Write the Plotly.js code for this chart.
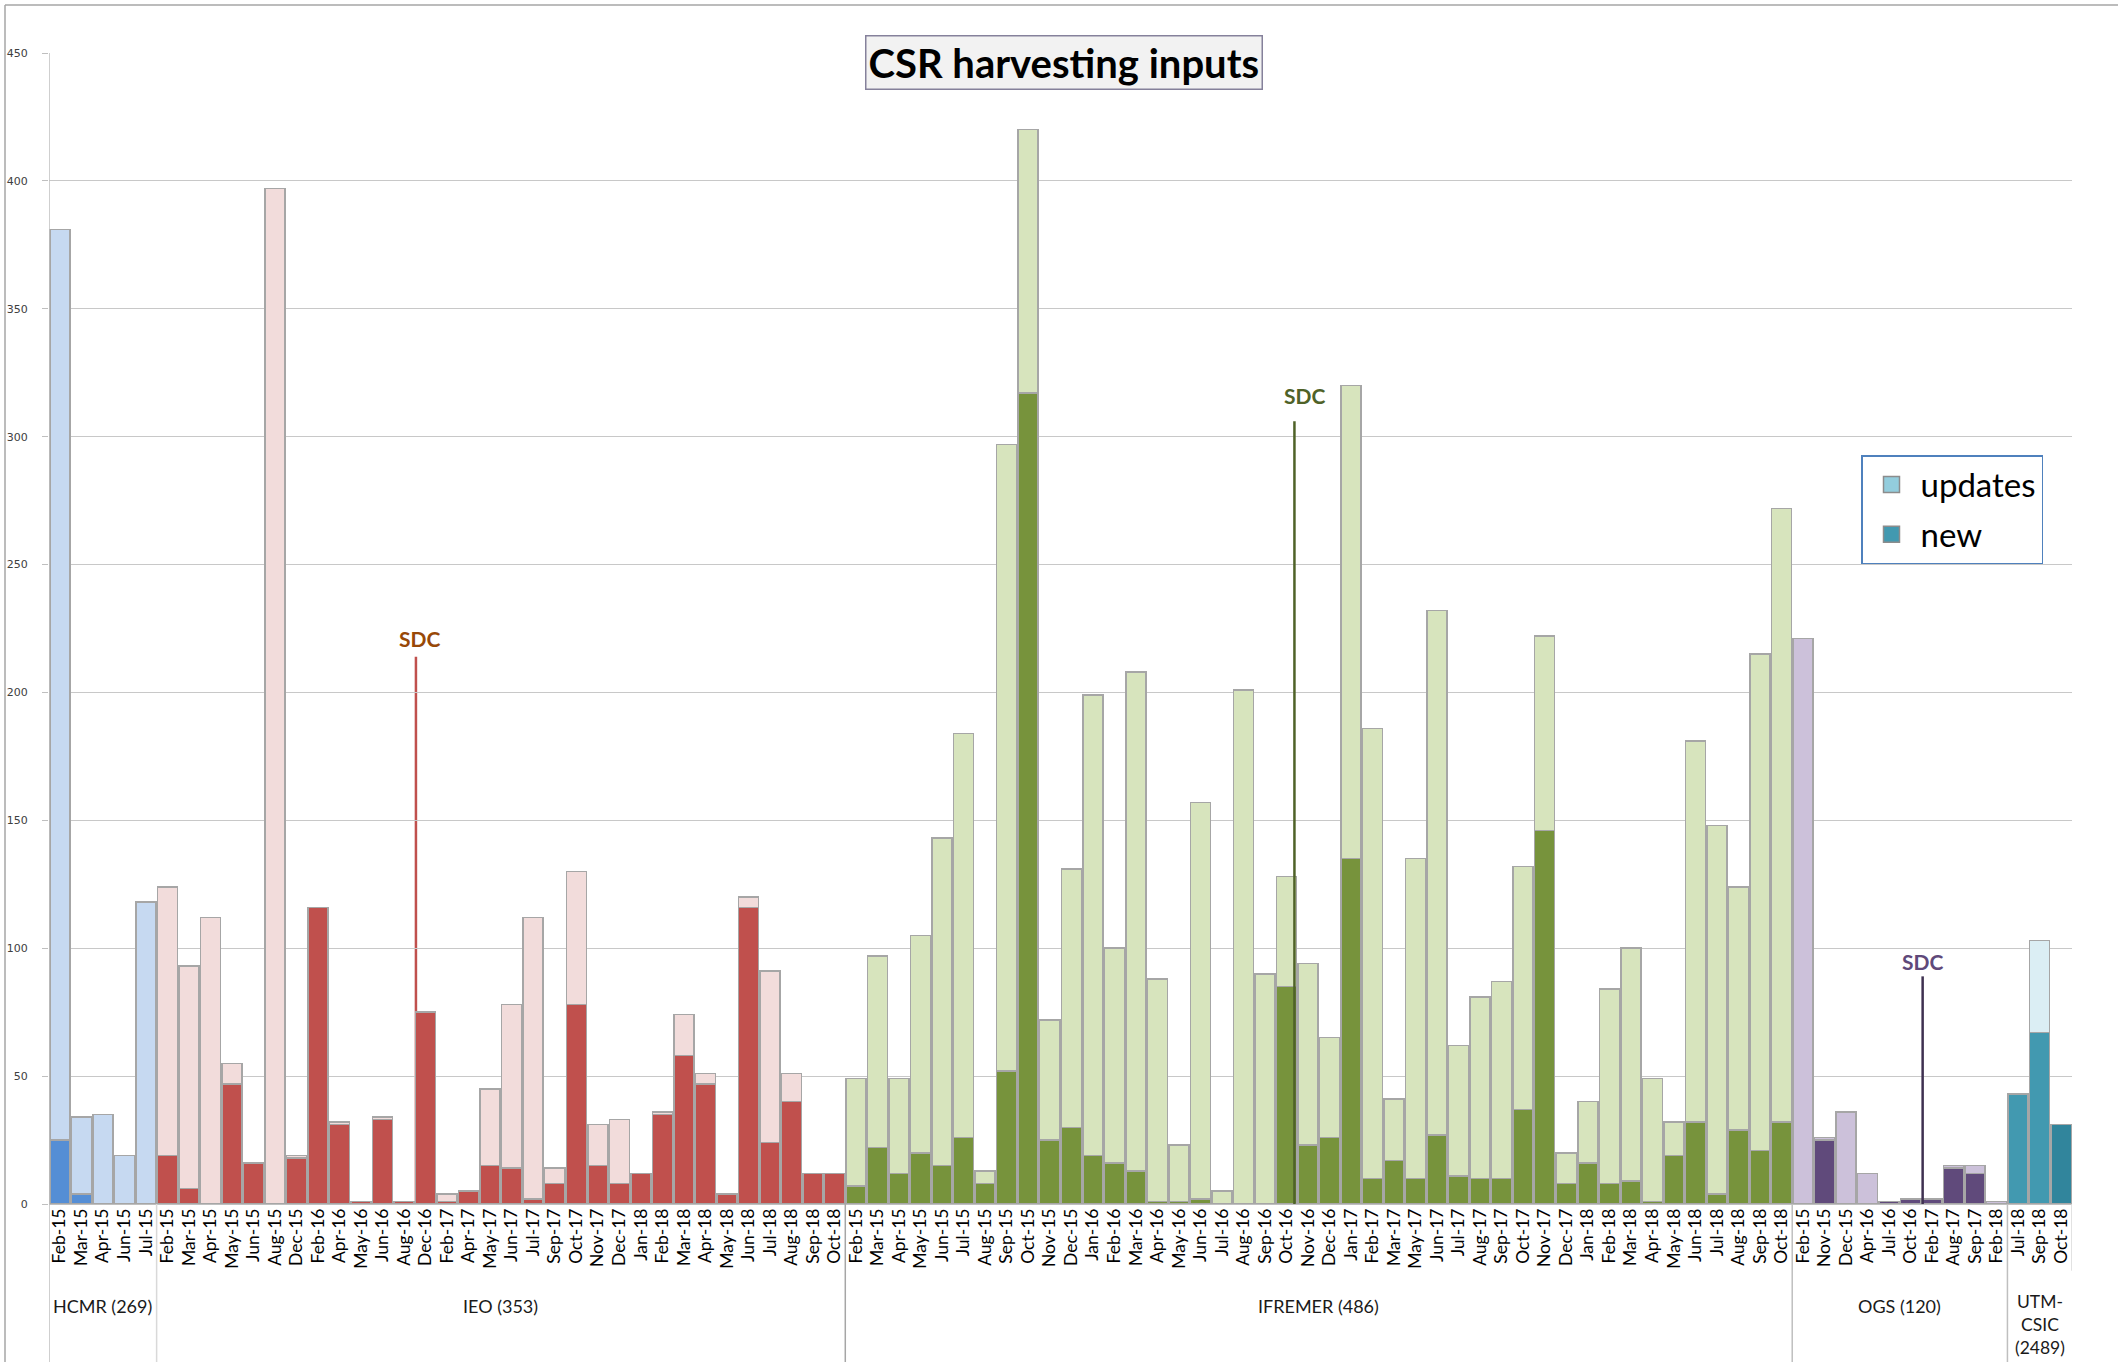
<!DOCTYPE html>
<html>
<head>
<meta charset="utf-8">
<script src="https://cdn.plot.ly/plotly-3.0.1.min.js"></script>
<style>
  html, body { margin: 0; padding: 0; background: #ffffff; }
  #chart { width: 2118px; height: 1362px; }
</style>
</head>
<body>
<div id="chart"></div>
<script>
// ---------------- DATA ----------------
const groupNames = ['HCMR', 'IEO', 'IFREMER', 'OGS', 'UTM-CSIC'];
const groupLabels = ['HCMR (269)', 'IEO (353)', 'IFREMER (486)', 'OGS (120)', 'UTM-<br>CSIC<br>(2489)'];

const hcmrMonths = ['Feb-15','Mar-15','Apr-15','Jun-15','Jul-15'];
const hcmrNew     = [25, 4, 0, 0, 0];
const hcmrUpdates = [356, 30, 35, 19, 118];

const ieoMonths = ['Feb-15','Mar-15','Apr-15','May-15','Jun-15','Aug-15','Dec-15','Feb-16','Apr-16','May-16',
                   'Jun-16','Aug-16','Dec-16','Feb-17','Apr-17','May-17','Jun-17','Jul-17','Sep-17','Oct-17',
                   'Nov-17','Dec-17','Jan-18','Feb-18','Mar-18','Apr-18','May-18','Jun-18','Jul-18','Aug-18',
                   'Sep-18','Oct-18'];
const ieoNew     = [19, 6, 0, 47, 16, 0, 18, 116, 31, 1, 33, 1, 75, 1, 5, 15, 14, 2, 8, 78,
                    15, 8, 12, 35, 58, 47, 4, 116, 24, 40, 12, 12];
const ieoUpdates = [105, 87, 112, 8, 0, 397, 1, 0, 1, 0, 1, 0, 0, 3, 0, 30, 64, 110, 6, 52,
                    16, 25, 0, 1, 16, 4, 0, 4, 67, 11, 0, 0];

const ifremerMonths = ['Feb-15','Mar-15','Apr-15','May-15','Jun-15','Jul-15','Aug-15','Sep-15','Oct-15','Nov-15',
                       'Dec-15','Jan-16','Feb-16','Mar-16','Apr-16','May-16','Jun-16','Jul-16','Aug-16','Sep-16',
                       'Oct-16','Nov-16','Dec-16','Jan-17','Feb-17','Mar-17','May-17','Jun-17','Jul-17','Aug-17',
                       'Sep-17','Oct-17','Nov-17','Dec-17','Jan-18','Feb-18','Mar-18','Apr-18','May-18','Jun-18',
                       'Jul-18','Aug-18','Sep-18','Oct-18'];
const ifremerNew     = [7, 22, 12, 20, 15, 26, 8, 52, 317, 25, 30, 19, 16, 13, 1, 1, 2, 0, 0, 0,
                        85, 23, 26, 135, 10, 17, 10, 27, 11, 10, 10, 37, 146, 8, 16, 8, 9, 1, 19, 32,
                        4, 29, 21, 32];
const ifremerUpdates = [42, 75, 37, 85, 128, 158, 5, 245, 103, 47, 101, 180, 84, 195, 87, 22, 155, 5, 201, 90,
                        43, 71, 39, 185, 176, 24, 125, 205, 51, 71, 77, 95, 76, 12, 24, 76, 91, 48, 13, 149,
                        144, 95, 194, 240];

const ogsMonths = ['Feb-15','Nov-15','Dec-15','Apr-16','Jul-16','Oct-16','Feb-17','Aug-17','Sep-17','Feb-18'];
const ogsNew     = [0, 25, 0, 0, 1, 2, 2, 14, 12, 0];
const ogsUpdates = [221, 1, 36, 12, 0, 0, 0, 1, 3, 1];

const utmMonths = ['Jul-18','Sep-18','Oct-18'];
const utmNew     = [43, 67, 31];
const utmUpdates = [0, 36, 0];

// ---------------- STYLE ----------------
const FONT = 'Lato, "Noto Sans", "DejaVu Sans", sans-serif';
const groupStyle = [
  { newColor: '#558ED5', updColor: '#C6D9F1' },
  { newColor: '#C0504D', updColor: '#F2DCDB' },
  { newColor: '#77933C', updColor: '#D7E4BD' },
  { newColor: '#604A7B', updColor: '#CCC1DA' },
  { newColor: ['#4299B0', '#4299B0', '#31859C'], updColor: '#DBEEF4' }
];
const legendColors = { updates: '#93CDDD', new: '#4299B0' };
const BAR_LINE = { color: '#A6A6A6', width: 1.5 };

// SDC markers (annotation placement, not data)
const sdcMarks = [
  { group: 1, month: 'Dec-16', shift: -0.45, labelShift: 0.15, top: 214, labelY: 221, textColor: '#984807', lineColor: '#C0504D', layer: 'below' },
  { group: 2, month: 'Oct-16', shift: 0.37,  labelShift: 0.45, top: 306, labelY: 316, textColor: '#4F6228', lineColor: '#4F6228', layer: 'above' },
  { group: 3, month: 'Feb-17', shift: -0.44, labelShift: 0.0,  top: 89,  labelY: 95,  textColor: '#5F497A', lineColor: '#3F3151', layer: 'above' }
];

// ---------------- BUILD ----------------
const monthsByGroup  = [hcmrMonths, ieoMonths, ifremerMonths, ogsMonths, utmMonths];
const newByGroup     = [hcmrNew, ieoNew, ifremerNew, ogsNew, utmNew];
const updByGroup     = [hcmrUpdates, ieoUpdates, ifremerUpdates, ogsUpdates, utmUpdates];

const traces = [];
const tickvals = [], ticktext = [];
const groupStart = [];
let pos = 0;
monthsByGroup.forEach((months, g) => {
  groupStart.push(pos);
  const xs = months.map((m, i) => pos + i);
  xs.forEach((xv, i) => { tickvals.push(xv); ticktext.push(months[i]); });
  traces.push({
    type: 'bar', x: xs, y: newByGroup[g], name: groupNames[g] + ' new', showlegend: false,
    marker: { color: groupStyle[g].newColor, line: BAR_LINE }, hoverinfo: 'x+y'
  });
  traces.push({
    type: 'bar', x: xs, y: updByGroup[g], name: groupNames[g] + ' updates', showlegend: false,
    marker: { color: groupStyle[g].updColor, line: BAR_LINE }, hoverinfo: 'x+y'
  });
  pos += months.length;
});
const nCats = pos;
groupStart.push(nCats);

// legend-only entries (square swatches)
traces.push({ type: 'scatter', mode: 'markers', x: [null], y: [null], name: 'updates', legendgroup: 'u', showlegend: true,
  marker: { symbol: 'square', size: 20, color: legendColors.updates, line: { color: '#8C8C8C', width: 1.5 } } });
traces.push({ type: 'scatter', mode: 'markers', x: [null], y: [null], name: 'new', legendgroup: 'n', showlegend: true,
  marker: { symbol: 'square', size: 20, color: legendColors.new, line: { color: '#8C8C8C', width: 1.5 } } });

const plotTop = 53, plotBottom = 1362 - 158, plotH = plotBottom - plotTop;
const figBottomPaper = -(1362 - plotBottom) / plotH;

const shapes = [];
const annotations = [];

// outer frame (left and top edges)
shapes.push({ type: 'line', xref: 'paper', yref: 'paper', x0: -44/2023, x1: -44/2023, y0: 1 + 48/plotH, y1: figBottomPaper - 0.01,
  line: { color: '#A6A6A6', width: 1.5 } });
shapes.push({ type: 'line', xref: 'paper', yref: 'paper', x0: -44/2023, x1: 1.05, y0: 1 + 48/plotH, y1: 1 + 48/plotH,
  line: { color: '#A6A6A6', width: 1.5 } });

// left axis line running down through labels
shapes.push({ type: 'line', xref: 'x', yref: 'paper', x0: -0.5, x1: -0.5, y0: 1, y1: figBottomPaper,
  line: { color: '#BFBFBF', width: 1.5 } });
// group dividers
const dividerColors = ['#D9D9D9', '#A6A6A6', '#BFBFBF', '#BFBFBF'];
for (let g = 1; g < groupStart.length - 1; g++) {
  shapes.push({ type: 'line', xref: 'x', yref: 'paper', x0: groupStart[g] - 0.5, x1: groupStart[g] - 0.5,
    y0: 0, y1: figBottomPaper, line: { color: dividerColors[g - 1], width: 1.5 } });
}
shapes.push({ type: 'line', xref: 'x', yref: 'paper', x0: nCats - 0.5, x1: nCats - 0.5,
  y0: 0, y1: -0.058, line: { color: '#D9D9D9', width: 1.5 } });

// group labels
groupLabels.forEach((lab, g) => {
  const multi = lab.indexOf('<br>') >= 0;
  annotations.push({
    xref: 'x', yref: 'paper', x: (groupStart[g] + groupStart[g + 1] - 1) / 2, y: multi ? -0.074 : -0.077,
    yanchor: 'top', xanchor: 'center', text: lab, showarrow: false,
    font: { family: FONT, size: multi ? 17.5 : 18, color: '#1a1a1a' }
  });
});

// SDC markers
sdcMarks.forEach(s => {
  const xi = groupStart[s.group] + monthsByGroup[s.group].indexOf(s.month) + s.shift;
  shapes.push({ type: 'line', xref: 'x', yref: 'y', x0: xi, x1: xi, y0: 0, y1: s.top, layer: s.layer,
    line: { color: s.lineColor, width: 2.5 } });
  annotations.push({ xref: 'x', yref: 'y', x: xi + s.labelShift, y: s.labelY, yanchor: 'middle', text: '<b>SDC</b>',
    showarrow: false, font: { family: FONT, size: 21, color: s.textColor } });
});

// title box
annotations.push({
  xref: 'paper', yref: 'paper', x: 0.5015, y: 1 - 9/plotH, xanchor: 'center', yanchor: 'middle',
  text: '<b>CSR harvesting inputs</b>', showarrow: false,
  font: { family: FONT, size: 40, color: '#000000' },
  bgcolor: '#F2F2F2', bordercolor: '#85819B', borderwidth: 1.5, borderpad: 2
});

const layout = {
  width: 2118, height: 1362,
  margin: { l: 49, r: 46, t: plotTop, b: 158 },
  paper_bgcolor: '#ffffff', plot_bgcolor: '#ffffff',
  barmode: 'stack', bargap: 0.07,
  font: { family: FONT, color: '#000' },
  showlegend: true,
  legend: {
    x: (1861 - 49) / 2023, y: (plotBottom - 455) / plotH, xanchor: 'left', yanchor: 'top',
    bgcolor: '#ffffff', bordercolor: '#4F81BD', borderwidth: 1.5,
    font: { family: FONT, size: 33, color: '#000' },
    traceorder: 'grouped', tracegroupgap: 4, itemwidth: 48
  },
  xaxis: {
    range: [-0.5, nCats - 0.5], tickmode: 'array', tickvals: tickvals, ticktext: ticktext,
    tickangle: -90, tickfont: { family: FONT, size: 17.5, color: '#000' },
    showgrid: false, zeroline: false, showline: false, ticks: '', fixedrange: true
  },
  yaxis: {
    range: [0, 450], dtick: 50, tick0: 0, showgrid: true, gridcolor: '#C8C8C8', gridwidth: 1,
    zeroline: true, zerolinecolor: '#BFBFBF', zerolinewidth: 1.5,
    showline: false, ticks: 'outside', ticklen: 6, tickcolor: '#BFBFBF', tickwidth: 1,
    ticklabelstandoff: 12,
    tickfont: { family: '"DejaVu Sans", Verdana, sans-serif', size: 11, color: '#404040' }, fixedrange: true
  },
  shapes: shapes,
  annotations: annotations
};

Plotly.newPlot('chart', traces, layout, { displayModeBar: false, staticPlot: true });
</script>
</body>
</html>
